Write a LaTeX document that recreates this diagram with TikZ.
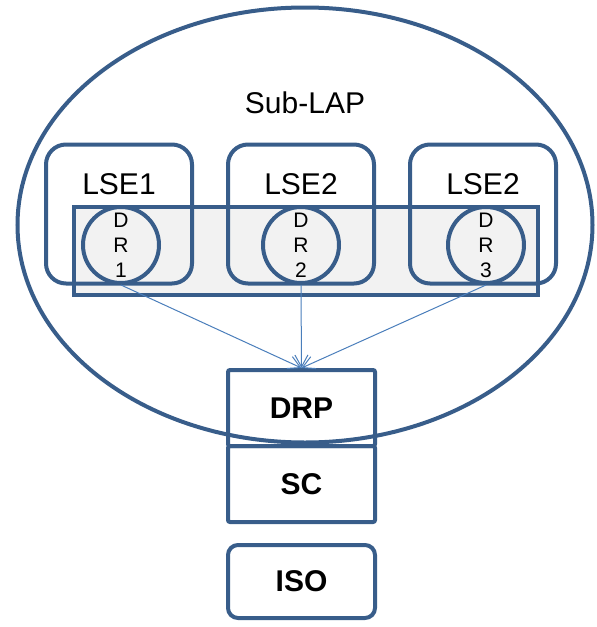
\documentclass[tikz,border=0pt]{standalone}
\usepackage{fontspec}
\setmainfont{Liberation Sans}
\usetikzlibrary{arrows.meta,shapes.geometric}
\definecolor{lapblue}{RGB}{56,93,138}
\definecolor{linkblue}{RGB}{74,126,187}
\definecolor{drgray}{RGB}{242,242,242}

\begin{document}
\begin{tikzpicture}[x=1pt,y=-1pt,line width=4pt,
lap/.style={draw=lapblue,ellipse,inner sep=0pt,minimum width=575pt,minimum height=435pt},
lse/.style={draw=lapblue,rounded corners=20pt,minimum width=146pt,minimum height=139pt},
lsetxt/.style={font=\fontsize{30}{36}\selectfont,inner sep=0pt},
drband/.style={draw=lapblue,fill=drgray,minimum width=464pt,minimum height=88pt},
dr/.style={draw=lapblue,fill=drgray,circle,inner sep=0pt,minimum size=76pt,align=center,font=\fontsize{21}{25}\selectfont},
blk/.style={draw=lapblue,rounded corners=2pt,minimum width=147pt,minimum height=76pt,font=\bfseries\fontsize{30}{36}\selectfont},
link/.style={line width=1pt,linkblue,-{Straight Barb[length=12pt,width=13pt,line width=1pt]}}]
\useasboundingbox (0,0) rectangle (597,627);
\node[lap] (lap) at (305,225) {};
\node[lsetxt] (title) at (305,103) {Sub-LAP};
\node[drband] (drs) at (306,251) {};
\node[lse] (lse1) at (119,214) {};
\node[lse] (lse2) at (301,214) {};
\node[lse] (lse3) at (483,214) {};
\node[lsetxt] (t1) at (119,184) {LSE1};
\node[lsetxt] (t2) at (301,184) {LSE2};
\node[lsetxt] (t3) at (483,184) {LSE2};
\node[dr] (dr1) at (121,245) {D\\R\\1};
\node[dr] (dr2) at (301,245) {D\\R\\2};
\node[dr] (dr3) at (486,245) {D\\R\\3};
\node[blk] (drp) at (301.5,408) {DRP};
\node[blk] (sc) at (301.5,484) {SC};
\node[blk,rounded corners=10pt,minimum height=73pt] (iso) at (301.5,581.5) {ISO};
% DR links to the DRP
\draw[link] (dr1.south)--(drp.north);
\draw[link] (dr2.south)--(drp.north);
\draw[link] (dr3.south)--(drp.north);
\end{tikzpicture}
\end{document}
